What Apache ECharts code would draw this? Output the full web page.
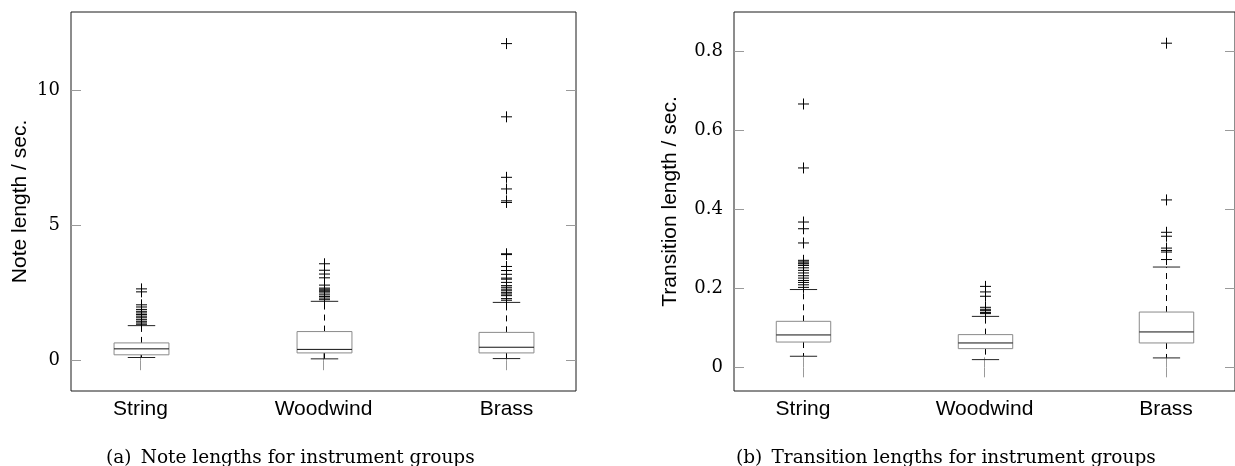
<!DOCTYPE html>
<html><head><meta charset="utf-8">
<script src="https://cdn.jsdelivr.net/npm/echarts@6/dist/echarts.min.js"></script>
<style>html,body{margin:0;padding:0;background:#fff}#c{width:1235px;height:466px}</style>
</head><body><div id="c"></div>
<script>
// ---------- data ----------
const categories = ['String', 'Woodwind', 'Brass'];
const positions = [1, 2, 3];

// box stats per group: [lower whisker, Q1, median, Q3, upper whisker]
const noteBoxString   = [0.10, 0.20, 0.42, 0.64, 1.28];
const noteBoxWoodwind = [0.05, 0.27, 0.40, 1.06, 2.18];
const noteBoxBrass    = [0.06, 0.27, 0.48, 1.03, 2.14];

const noteOutString   = [1.33, 1.38, 1.44, 1.50, 1.57, 1.63, 1.69, 1.75, 1.81, 1.88, 1.97, 2.05, 2.53, 2.64];
const noteOutWoodwind = [2.24, 2.30, 2.36, 2.42, 2.49, 2.55, 2.59, 2.63, 2.67, 2.78, 3.05, 3.19, 3.33, 3.57];
const noteOutBrass    = [2.22, 2.28, 2.39, 2.45, 2.50, 2.57, 2.63, 2.70, 2.76, 2.88, 3.00, 3.04, 3.18, 3.32, 3.47, 3.91, 3.94, 5.84, 5.90, 6.34, 6.77, 9.01, 11.72];

const transBoxString   = [0.028, 0.064, 0.082, 0.1165, 0.197];
const transBoxWoodwind = [0.0195, 0.0473, 0.0617, 0.0828, 0.129];
const transBoxBrass    = [0.0238, 0.0617, 0.0896, 0.140, 0.254];

const transOutString   = [0.2025, 0.209, 0.215, 0.220, 0.226, 0.232, 0.239, 0.2456, 0.252, 0.258, 0.262, 0.264, 0.267, 0.271, 0.315, 0.351, 0.368, 0.505, 0.667];
const transOutWoodwind = [0.136, 0.139, 0.1435, 0.147, 0.152, 0.180, 0.191, 0.205];
const transOutBrass    = [0.273, 0.292, 0.296, 0.302, 0.332, 0.342, 0.424, 0.821];

const noteTicks  = [0, 5, 10];
const transTicks = [0, 0.2, 0.4, 0.6, 0.8];
const noteRange  = [-1.14, 12.89];
const transRange = [-0.06, 0.90];
const xRange     = [0.62, 3.38];

const noteAxisName  = 'Note length / sec.';
const transAxisName = 'Transition length / sec.';
const captionA = '(a)\u2002Note lengths for instrument groups';
const captionB = '(b)\u2002Transition lengths for instrument groups';

// ---------- build ----------
const noteBoxes  = [noteBoxString, noteBoxWoodwind, noteBoxBrass];
const transBoxes = [transBoxString, transBoxWoodwind, transBoxBrass];
const noteOuts   = [noteOutString, noteOutWoodwind, noteOutBrass];
const transOuts  = [transOutString, transOutWoodwind, transOutBrass];

function boxData(boxes) { return boxes.map((b, i) => [positions[i]].concat(b)); }
function outData(outs) {
  const d = [];
  outs.forEach((arr, i) => arr.forEach(v => d.push([positions[i], v])));
  return d;
}

const BOX_W = 0.30, CAP_W = 0.15;
function renderBox(params, api) {
  const x = api.value(0);
  const lo = api.coord([x, api.value(1)]);
  const q1 = api.coord([x, api.value(2)]);
  const md = api.coord([x, api.value(3)]);
  const q3 = api.coord([x, api.value(4)]);
  const hi = api.coord([x, api.value(5)]);
  const hb = api.size([BOX_W, 0])[0] / 2;
  const hc = api.size([CAP_W, 0])[0] / 2;
  const cx = Math.round(q1[0]) + 0.5;
  return {
    type: 'group',
    children: [
      { type: 'line', shape: { x1: cx, y1: q3[1], x2: cx, y2: hi[1] }, style: { stroke: '#000', lineWidth: 1, lineDash: [6, 5] } },
      { type: 'line', shape: { x1: cx, y1: q1[1], x2: cx, y2: lo[1] }, style: { stroke: '#000', lineWidth: 1, lineDash: [6, 5] } },
      { type: 'line', shape: { x1: cx - hc, y1: hi[1], x2: cx + hc, y2: hi[1] }, style: { stroke: '#222', lineWidth: 1 } },
      { type: 'line', shape: { x1: cx - hc, y1: lo[1], x2: cx + hc, y2: lo[1] }, style: { stroke: '#222', lineWidth: 1 } },
      { type: 'rect', shape: { x: cx - hb, y: q3[1], width: 2 * hb, height: q1[1] - q3[1] }, style: { fill: '#fff', stroke: '#8a8a8a', lineWidth: 1 } },
      { type: 'line', shape: { x1: cx - hb, y1: md[1], x2: cx + hb, y2: md[1] }, style: { stroke: '#111', lineWidth: 1 } }
    ]
  };
}
function renderPlus(params, api) {
  const p = api.coord([api.value(0), api.value(1)]);
  const cx = Math.round(p[0]) + 0.5, cy = p[1], r = 5.5;
  return {
    type: 'group',
    children: [
      { type: 'line', shape: { x1: cx - r, y1: cy, x2: cx + r, y2: cy }, style: { stroke: '#000', lineWidth: 1 } },
      { type: 'line', shape: { x1: cx, y1: cy - r, x2: cx, y2: cy + r }, style: { stroke: '#000', lineWidth: 1 } }
    ]
  };
}

const tickStyle = { color: '#9a9a9a', width: 1 };
const serif = '"DejaVu Serif", "Liberation Serif", serif';
const sans = '"Liberation Sans", Arial, sans-serif';

function xAxes(gi) {
  return [
    { type: 'value', gridIndex: gi, position: 'bottom', min: xRange[0], max: xRange[1],
      axisLine: { show: false }, splitLine: { show: false },
      axisTick: { show: true, inside: true, length: 10, customValues: positions, lineStyle: tickStyle },
      axisLabel: { show: true, customValues: positions, margin: 8, fontSize: 21, fontFamily: sans, color: '#000',
        formatter: v => categories[positions.indexOf(v)] } },
    { type: 'value', gridIndex: gi, position: 'top', min: xRange[0], max: xRange[1],
      axisLine: { show: false }, splitLine: { show: false },
      axisTick: { show: true, inside: true, length: 10, customValues: positions, lineStyle: tickStyle },
      axisLabel: { show: false } }
  ];
}
function yAxes(gi, range, ticks, name, gap) {
  return [
    { type: 'value', gridIndex: gi, position: 'left', min: range[0], max: range[1],
      name: name, nameLocation: 'middle', nameGap: gap,
      nameTextStyle: { fontSize: 21, fontFamily: sans, color: '#000' },
      axisLine: { show: false }, splitLine: { show: false },
      axisTick: { show: true, inside: true, length: 10, customValues: ticks, lineStyle: tickStyle },
      axisLabel: { show: true, customValues: ticks, margin: 11, fontSize: 18, fontFamily: serif, color: '#000' } },
    { type: 'value', gridIndex: gi, position: 'right', min: range[0], max: range[1],
      axisLine: { show: false }, splitLine: { show: false },
      axisTick: { show: true, inside: true, length: 10, customValues: ticks, lineStyle: tickStyle },
      axisLabel: { show: false } }
  ];
}

const option = {
  animation: false,
  backgroundColor: '#fff',
  grid: [
    { left: 71, top: 12, width: 505, height: 379, show: true, borderColor: '#1a1a1a', borderWidth: 1, backgroundColor: 'transparent' },
    { left: 734, top: 12, width: 505, height: 379, show: true, borderColor: '#1a1a1a', borderWidth: 1, backgroundColor: 'transparent' }
  ],
  xAxis: xAxes(0).concat(xAxes(1)),
  yAxis: yAxes(0, noteRange, noteTicks, noteAxisName, 40).concat(yAxes(1, transRange, transTicks, transAxisName, 53)),
  series: [
    { type: 'custom', xAxisIndex: 0, yAxisIndex: 0, renderItem: renderBox, data: boxData(noteBoxes), encode: { x: 0, y: [1, 2, 3, 4, 5] }, silent: true },
    { type: 'custom', xAxisIndex: 0, yAxisIndex: 0, renderItem: renderPlus, data: outData(noteOuts), encode: { x: 0, y: 1 }, silent: true },
    { type: 'custom', xAxisIndex: 2, yAxisIndex: 2, renderItem: renderBox, data: boxData(transBoxes), encode: { x: 0, y: [1, 2, 3, 4, 5] }, silent: true },
    { type: 'custom', xAxisIndex: 2, yAxisIndex: 2, renderItem: renderPlus, data: outData(transOuts), encode: { x: 0, y: 1 }, silent: true }
  ],
  graphic: [
    { type: 'text', left: 106, top: 449, style: { text: captionA, font: '18.5px ' + serif, fill: '#000' } },
    { type: 'text', left: 736, top: 449, style: { text: captionB, font: '18.5px ' + serif, fill: '#000' } }
  ]
};

const chart = echarts.init(document.getElementById('c'), null, { renderer: 'canvas' });
chart.setOption(option);
</script>
</body></html>
